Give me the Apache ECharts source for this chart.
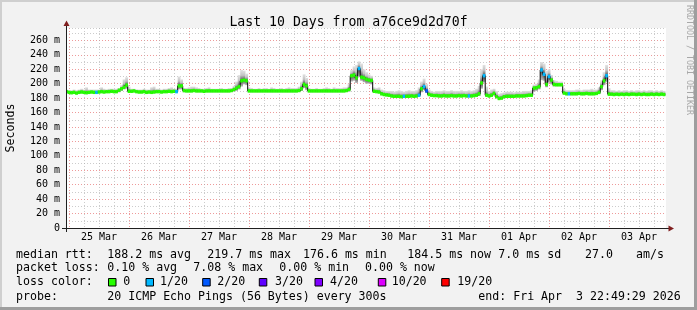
<!DOCTYPE html>
<html><head><meta charset="utf-8">
<script src="https://cdn.jsdelivr.net/npm/echarts@6/dist/echarts.min.js"></script>
<style>html,body{margin:0;padding:0;background:#f2f2f2}#c{width:697px;height:310px}</style>
</head><body><div id="c"></div>
<script>
// x = hours since 24 Mar 00:00; one sample per hour starting at 23:00 on 24 Mar
const startHour = 23;
const viewStart = 22.825;  // 24 Mar 22:49:29
const viewEnd = 262.825;   // 03 Apr 22:49:29

const medianRtt = [
 189,188,187.5,188,187,188,188.5,188,187.5,188,
 188.5,188,188,188.5,189,188.5,189,189,189.5,189,
 189,191,193,195,198,189.5,189.5,190,189,188.5,
 188.5,189,188,188.5,188,188.5,189,189,188.5,189,
 189,189.5,189,189.5,189,197,197,190.5,190,190,
 190,190.5,190,190,190,189.5,190,190,190,190,
 190,190,190,190,190,190,190.5,192,194,196,
 204,205,204,190,190,190,190,190,190,190,
 190,190,190,190,190,190,190,190,190,190,
 190,190,190,190.5,193,199,197,190,190,190,
 190,190,190,190,190,190,190,190,190,190,
 190,190,190.5,192,211,212,208,221,209,208,
 206,205,204.5,189.5,189,188.5,186,185,184.5,184,
 183,182.5,182.5,182.5,182,182.5,182.5,182.5,183,182.5,
 183,184,193,196,190,185,184,183.5,183.5,183,
 183,183.5,183,183,183.5,183,183,183.5,183,183.5,
 183,183,183,183.5,184,186,201,211,184,183,
 184,186.5,182,179.5,180,182,182.5,182.5,182.5,182.5,
 183,183,183,183,183.5,184,184,194,194.5,196,
 219,213,199,210,205,199,198.5,198.5,198.5,187,
 186,186,186,186,186,186.5,186,186,186.5,186,
 186,186,186.5,188,196,204,211,185.5,185.5,185,
 185.5,185,185.5,185,185.5,185,185.5,185.5,185,185.5,
 185,185.5,185,185,185.5,185,185.5,185,185.5,185
];
const smokeTop = [
 192,191,191,192,191,192,193,192,195,192,
 192,192,192,192,195,193,192,193,193,193,
 193,194,198,206,209,196,193,193,192,192,
 192,193,192,192,195,196,193,193,192,193,
 193,194,195,193,193,210,206,194,194,195,
 196,196,195,194,193,193,194,195,193,193,
 193,193,194,193,193,194,194,197,203,212,
 219,218,214,195,194,193,193,194,193,194,
 194,193,195,194,193,193,194,193,194,195,
 194,194,194,196,203,213,208,194,193,193,
 194,193,193,194,195,194,193,195,194,194,
 194,195,195,200,219,224,226,231,228,220,
 216,213,211,195,194,195,192,191,190,190,
 190,189,190,191,190,189,190,191,190,190,
 191,195,203,207,200,192,190,189,190,190,
 190,191,190,190,191,190,190,190,191,190,
 190,191,190,191,193,197,220,226,196,190,
 192,193,190,186,187,188,189,189,189,188,
 189,189,189,190,190,190,191,199,200,206,
 230,228,218,220,212,205,204,203,203,193,
 191,191,191,191,192,192,191,192,192,192,
 193,192,192,195,205,216,226,194,191,191,
 190,191,190,191,191,190,191,190,191,191,
 190,191,190,191,191,190,191,190,191,190
];
const smokeBottom = [
 187,186,185.5,186,185,186,186.5,186,185.5,186,
 186.5,186,186,186.5,187,186.5,187,187,187.5,187,
 187,188,190,192,193,188,187.5,188,187,186.5,
 186.5,187,186,186.5,186,186.5,187,187,186.5,187,
 187,187.5,187,187.5,187,192,192,188,188,188,
 188,188.5,188,188,188,187.5,188,188,188,188,
 188,188,188,188,188,188,188.5,189,190,192,
 196,199,198,188,188,188,188,188,188,188,
 188,188,188,188,188,188,188,188,188,188,
 188,188,188,188.5,190,194,191,188,188,188,
 188,188,188,188,188,188,188,188,188,188,
 188,188,188.5,189,203,204,201,210,204,202,
 200,200,199,187.5,187,186.5,184,183,182.5,182,
 181,180.5,180.5,180.5,180,180.5,180.5,180.5,181,180.5,
 181,182,188,191,187,183,182,181.5,181.5,181,
 181,181.5,181,181,181.5,181,181,181.5,181,181.5,
 181,181,181,181.5,182,183,193,202,182,181,
 182,184,180,177.5,178,180,180.5,180.5,180.5,180.5,
 181,181,181,181,181.5,182,182,189,190,192,
 205,204,195,202,199,196,196.5,196.5,196.5,185,
 184,184,184,184,184,184.5,184,184,184.5,184,
 184,184,184.5,185.5,191,198,202,183.5,183.5,183,
 183.5,183,183.5,183,183.5,183,183.5,183.5,183,183.5,
 183,183.5,183,183,183.5,183,183.5,183,183.5,183
];
// hours where packets were lost, and how many of 20
const lossHours  = [35, 67, 140, 158, 164, 166, 167, 184, 190, 213, 214, 216, 224, 239];
const lossCounts = [1,  1,  1,   1,   1,   1,   2,   1,   1,   1,   1,   1,   1,   1];

const dayLabels = ['25 Mar','26 Mar','27 Mar','28 Mar','29 Mar','30 Mar','31 Mar','01 Apr','02 Apr','03 Apr'];
const dayLabelHours = [36, 60, 84, 108, 132, 156, 180, 204, 228, 252];
const gridFirstHour = 24, gridLastHour = 258, gridStep = 6;

const lossLegendLabels = ['0','1/20','2/20','3/20','4/20','10/20','19/20'];
const lossLegendCounts = [0, 1, 2, 3, 4, 10, 19];
const lossLegendColors = ['#26ff00','#00b8ff','#0059ff','#5e00ff','#7e00ff','#dd00ff','#ff0000'];

const statsRtt  = ['median rtt:','188.2 ms avg','219.7 ms max','176.6 ms min','184.5 ms now','7.0 ms sd','27.0','am/s'];
const statsLoss = ['packet loss:','0.10 % avg','7.08 % max','0.00 % min','0.00 % now'];
const probeText = ['probe:','20 ICMP Echo Pings (56 Bytes) every 300s','end: Fri Apr  3 22:49:29 2026'];
const titleText = 'Last 10 Days from a76ce9d2d70f';

// ---------- build ----------
const FONT = "'DejaVu Sans Mono', monospace";
const hours = medianRtt.map((_, i) => startHour + i);
const gridHours = [];
for (let h = gridFirstHour; h <= gridLastHour; h += gridStep) gridHours.push(h);

function lossColor(h) {
  const k = lossHours.indexOf(h);
  if (k < 0) return lossLegendColors[0];
  const c = lossCounts[k];
  let idx = 0;
  for (let j = 0; j < lossLegendCounts.length; j++) if (c >= lossLegendCounts[j]) idx = j;
  return lossLegendColors[idx];
}

const smokeData = hours.map((h, i) => [h, smokeBottom[i], medianRtt[i], smokeTop[i]]);
const medData = hours.map((h, i) => [h, medianRtt[i]]);

const chart = echarts.init(document.getElementById('c'), null, {renderer: 'canvas'});

const textEls = [];
function addText(x, y, t, size, extra) {
  textEls.push(Object.assign({type: 'text', x: x, y: y, silent: true,
    style: {text: t, font: size + 'px ' + FONT, fill: '#000', textVerticalAlign: 'middle', verticalAlign: 'middle'}}, extra || {}));
}
const rttX = [16, 107.3, 207.3, 303, 407.3, 498.3, 585, 636];
statsRtt.forEach((t, i) => addText(rttX[i], 254.5, t, 11.6));
const lossX = [16, 107.3, 193.3, 279.3, 365];
statsLoss.forEach((t, i) => addText(lossX[i], 268, t, 11.6));
addText(16, 282.3, 'loss color:', 11.6);
const boxX = [108.5, 146, 202.7, 259.3, 315, 378.3, 441.7];
const boxLabelX = [123.3, 160, 217.3, 275, 330, 391.7, 457.3];
lossLegendLabels.forEach((t, i) => {
  textEls.push({type: 'rect', silent: true, shape: {x: boxX[i], y: 278.5, width: 7.5, height: 7.5},
    style: {fill: lossLegendColors[i], stroke: '#000', lineWidth: 1}});
  addText(boxLabelX[i], 282.3, t, 11.6);
});
const probeX = [16, 107.3, 478.3];
probeText.forEach((t, i) => addText(probeX[i], 296.5, t, 11.6));
// watermark
textEls.push({type: 'text', x: 689, y: 5, rotation: -Math.PI / 2, silent: true,
  style: {text: 'RRDTOOL / TOBI OETIKER', font: '8.3px ' + FONT, fill: '#a8a8a8', textAlign: 'left', textVerticalAlign: 'middle', verticalAlign: 'middle'}});

const frame = [
  {type: 'rect', silent: true, shape: {x: 0, y: 0, width: 697, height: 2}, style: {fill: '#cfcfcf'}},
  {type: 'rect', silent: true, shape: {x: 0, y: 0, width: 2, height: 310}, style: {fill: '#cfcfcf'}},
  {type: 'rect', silent: true, shape: {x: 0, y: 307, width: 697, height: 3}, style: {fill: '#9e9e9e'}},
  {type: 'rect', silent: true, shape: {x: 694, y: 0, width: 3, height: 310}, style: {fill: '#9e9e9e'}},
  // axis extensions and arrows
  {type: 'line', silent: true, shape: {x1: 62, y1: 228.5, x2: 669, y2: 228.5}, style: {stroke: '#1f1f1f', lineWidth: 1}, z: 10},
  {type: 'line', silent: true, shape: {x1: 66.5, y1: 232, x2: 66.5, y2: 24}, style: {stroke: '#1f1f1f', lineWidth: 1}, z: 10},
  {type: 'polygon', silent: true, shape: {points: [[674, 228.5], [668.5, 225.5], [668.5, 231.5]]}, style: {fill: '#801f1f'}, z: 10},
  {type: 'polygon', silent: true, shape: {points: [[66.5, 20.5], [63.5, 26], [69.5, 26]]}, style: {fill: '#801f1f'}, z: 10}
];

const RED = 'rgba(232,120,120,0.75)';
const GRAY = 'rgba(170,170,170,0.6)';
const yColors = [];
for (let k = 0; k < 14; k++) yColors.push(RED);
yColors.push(GRAY);

chart.setOption({
  backgroundColor: '#f2f2f2',
  animation: false,
  title: {text: titleText, left: 'center', top: 11,
    textStyle: {fontFamily: FONT, fontSize: 13.2, fontWeight: 'normal', color: '#000'}},
  grid: {left: 66, top: 28, width: 600, height: 200, show: true, backgroundColor: '#fff', borderWidth: 0,
    containLabel: false, outerBoundsMode: 'none'},
  xAxis: {
    type: 'value', min: viewStart, max: viewEnd,
    axisLine: {show: true, onZero: false, lineStyle: {color: '#1f1f1f', width: 1}},
    axisTick: {show: false, customValues: gridHours},
    axisLabel: {customValues: dayLabelHours, margin: 4, color: '#000', fontFamily: FONT, fontSize: 10,
      formatter: v => { const k = dayLabelHours.indexOf(v); return k >= 0 ? dayLabels[k] : ''; }},
    splitLine: {show: true, lineStyle: {color: [RED, GRAY, GRAY, GRAY], type: [1, 2], width: 1}}
  },
  yAxis: {
    type: 'value', min: 0, max: 277.2, interval: 20,
    name: 'Seconds', nameLocation: 'middle', nameRotate: 90, nameGap: 49,
    nameTextStyle: {fontFamily: FONT, fontSize: 11.6, color: '#000'},
    axisLine: {show: true, lineStyle: {color: '#1f1f1f', width: 1}},
    axisTick: {show: false},
    axisLabel: {margin: 6, color: '#000', fontFamily: FONT, fontSize: 10,
      formatter: v => v === 0 ? '0' : (v % 20 === 0 ? v + ' m' : '')},
    splitLine: {show: true, lineStyle: {color: yColors, type: [1, 2], width: 1}},
    minorTick: {show: false, splitNumber: 2},
    minorSplitLine: {show: true, lineStyle: {color: GRAY, type: [1, 2], width: 1}}
  },
  graphic: {elements: frame.concat(textEls)},
  series: [
    {
      type: 'custom', name: 'smoke', clip: true, z: 2,
      encode: {x: 0, y: [1, 3]},
      data: smokeData,
      renderItem: (params, api) => {
        const h = api.value(0), lo = api.value(1), med = api.value(2), hi = api.value(3);
        const p1 = api.coord([h - 0.5, hi]);
        const p2 = api.coord([h + 0.5, lo]);
        const f = Math.min(0.98, Math.max(0.02, (hi - med) / (hi - lo)));
        return {type: 'rect',
          shape: {x: p1[0], y: p1[1], width: p2[0] - p1[0] + 0.3, height: p2[1] - p1[1]},
          style: {fill: new echarts.graphic.LinearGradient(0, 0, 0, 1, [
            {offset: 0, color: '#e2e2e2'},
            {offset: f * 0.5, color: '#c2c2c2'},
            {offset: f, color: '#4a4a4a'},
            {offset: 1, color: '#bdbdbd'}])}};
      }
    },
    {
      type: 'line', name: 'median', data: medData, step: 'middle', showSymbol: false, z: 3,
      lineStyle: {color: '#000', width: 1}, silent: true
    },
    {
      type: 'custom', name: 'medianLoss', clip: true, z: 4,
      encode: {x: 0, y: 1},
      data: medData,
      renderItem: (params, api) => {
        const h = api.value(0), m = api.value(1);
        const p1 = api.coord([h - 0.5, m]);
        const p2 = api.coord([h + 0.5, m]);
        return {type: 'rect', shape: {x: p1[0], y: p1[1] - 1.7, width: p2[0] - p1[0] + 0.2, height: 3.4},
          style: {fill: lossColor(h)}};
      }
    }
  ]
});
</script></body></html>
